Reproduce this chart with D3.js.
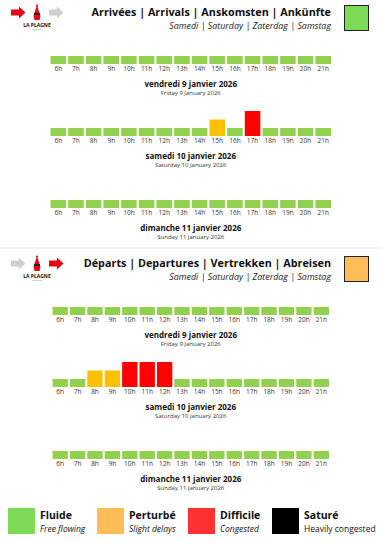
<!DOCTYPE html>
<html>
<head>
<meta charset="utf-8">
<script src="https://cdn.jsdelivr.net/npm/d3@7"></script>
<style>
  body { margin: 0; background: #fff; }
  svg { display: block; font-family: "Open Sans", sans-serif; }
</style>
</head>
<body>
<svg id="chart" width="382" height="542"></svg>
<script>
// hours on the x axis
const hours = ['6h', '7h', '8h', '9h', '10h', '11h', '12h', '13h', '14h', '15h', '16h', '17h', '18h', '19h', '20h', '21h'];

// traffic level per hour: 0 fluide, 1 perturbé, 2 difficile, 3 saturé
const arrFri = [0, 0, 0, 0, 0, 0, 0, 0, 0, 0, 0, 0, 0, 0, 0, 0];
const arrSat = [0, 0, 0, 0, 0, 0, 0, 0, 0, 1, 0, 2, 0, 0, 0, 0];
const arrSun = [0, 0, 0, 0, 0, 0, 0, 0, 0, 0, 0, 0, 0, 0, 0, 0];
const depFri = [0, 0, 0, 0, 0, 0, 0, 0, 0, 0, 0, 0, 0, 0, 0, 0];
const depSat = [0, 0, 1, 1, 2, 2, 2, 0, 0, 0, 0, 0, 0, 0, 0, 0];
const depSun = [0, 0, 0, 0, 0, 0, 0, 0, 0, 0, 0, 0, 0, 0, 0, 0];

const dayTitles = ['vendredi 9 janvier 2026', 'samedi 10 janvier 2026', 'dimanche 11 janvier 2026'];
const daySubs = ['Friday 9 January 2026', 'Saturday 10 January 2026', 'Sunday 11 January 2026'];

const sectionTitles = ['Arrivées | Arrivals | Anskomsten | Ankünfte', 'Départs | Departures | Vertrekken | Abreisen'];
const sectionSub = 'Samedi | Saturday | Zaterdag | Samstag';

const legendNames = ['Fluide', 'Perturbé', 'Difficile', 'Saturé'];
const legendSubs = ['Free flowing', 'Slight delays', 'Congested', 'Heavily congested'];

const barColors = ['#92d050', '#ffc000', '#ff0000', '#000000'];
const legendColors = ['#7ed957', '#ffbd59', '#ff3131', '#000000'];

const svg = d3.select('#chart');

const h = d3.scaleLinear().domain([0, 1, 2, 3]).range([8, 16.5, 25, 33.5]);

const sections = [
  { title: sectionTitles[0], top: 0, days: [arrFri, arrSat, arrSun], swatch: legendColors[0], range: [50.5, 331], inbound: true },
  { title: sectionTitles[1], top: 251, days: [depFri, depSat, depSun], swatch: legendColors[1], range: [52.5, 329], inbound: false }
];

const rowBottoms = [64, 136, 208];

function drawLogo(g, inbound) {
  const arrow = (x, color) => {
    g.append('path')
      .attr('d', `M${x},9.5 h8 v-3 l6.5,6 l-6.5,6 v-3 h-8 z`)
      .attr('fill', color);
  };
  arrow(11, inbound ? '#e30613' : '#cfcfcf');
  arrow(49, inbound ? '#cfcfcf' : '#e30613');
  // little gnome
  g.append('path').attr('d', 'M37,5 l-3.5,11 h7 z').attr('fill', '#e30613');
  g.append('circle').attr('cx', 37).attr('cy', 5.5).attr('r', 1.1).attr('fill', '#e30613');
  g.append('rect').attr('x', 33.8).attr('y', 13).attr('width', 6.4).attr('height', 2).attr('rx', 0.8).attr('fill', '#222');
  g.append('path').attr('d', 'M33.5,16 h7 l-1,4 h-5 z').attr('fill', '#e30613');
  g.append('text').attr('x', 37).attr('y', 26.5).attr('text-anchor', 'middle')
    .attr('font-size', 5).attr('font-weight', 700).attr('fill', '#111').text('LA PLAGNE');
  g.append('text').attr('x', 37).attr('y', 30).attr('text-anchor', 'middle')
    .attr('font-size', 2.5).attr('fill', '#888').text('Paradiski');
}

sections.forEach(sec => {
  const g = svg.append('g').attr('transform', `translate(0, ${sec.top})`);

  drawLogo(g, sec.inbound);

  g.append('text')
    .attr('x', 331).attr('y', 16)
    .attr('text-anchor', 'end')
    .attr('font-size', 10.8).attr('font-weight', 700).attr('fill', '#111')
    .text(sec.title);

  g.append('text')
    .attr('x', 331).attr('y', 28.5)
    .attr('text-anchor', 'end')
    .attr('font-size', 8.9).attr('font-style', 'italic').attr('fill', '#222')
    .text(sectionSub);

  g.append('rect')
    .attr('x', 344.5).attr('y', 5.5).attr('width', 24).attr('height', 25)
    .attr('fill', sec.swatch).attr('stroke', '#222').attr('stroke-width', 1);

  const x = d3.scaleBand().domain(hours).range(sec.range).paddingInner(0.12);

  sec.days.forEach((vals, i) => {
    const bottom = rowBottoms[i];
    const row = g.append('g');

    row.selectAll('rect')
      .data(vals)
      .join('rect')
      .attr('x', (d, j) => x(hours[j]))
      .attr('y', d => bottom - h(d))
      .attr('width', x.bandwidth())
      .attr('height', d => h(d))
      .attr('fill', d => barColors[d]);

    const axis = d3.axisBottom(x).tickSize(0).tickPadding(2);
    const ax = row.append('g')
      .attr('transform', `translate(0, ${bottom})`)
      .call(axis);
    ax.select('.domain').remove();
    ax.selectAll('text')
      .attr('font-size', 6.5).attr('font-family', 'Open Sans, sans-serif').attr('fill', '#333');

    const cx = (sec.range[0] + sec.range[1]) / 2;
    row.append('text')
      .attr('x', cx).attr('y', bottom + 22.5)
      .attr('text-anchor', 'middle')
      .attr('font-size', 8).attr('font-weight', 700).attr('fill', '#111')
      .text(dayTitles[i]);
    row.append('text')
      .attr('x', cx).attr('y', bottom + 30.5)
      .attr('text-anchor', 'middle')
      .attr('font-size', 6).attr('fill', '#333')
      .text(daySubs[i]);
  });
});

// separator
svg.append('line')
  .attr('x1', 0).attr('x2', 382).attr('y1', 248).attr('y2', 248)
  .attr('stroke', '#e2e2e2').attr('stroke-width', 1);

// legend
const legendX = [8, 97, 188, 272];
const lg = svg.append('g');
legendNames.forEach((name, i) => {
  const gi = lg.append('g').attr('transform', `translate(${legendX[i]}, 508)`);
  gi.append('rect').attr('width', 27).attr('height', 26).attr('fill', legendColors[i]);
  gi.append('text').attr('x', 32).attr('y', 10.5)
    .attr('font-size', 10.5).attr('font-weight', 700).attr('fill', '#111').text(name);
  gi.append('text').attr('x', 32).attr('y', 23.5)
    .attr('font-size', 8.5).attr('font-style', i === 3 ? 'normal' : 'italic').attr('fill', '#111')
    .text(legendSubs[i]);
});
</script>
</body>
</html>
